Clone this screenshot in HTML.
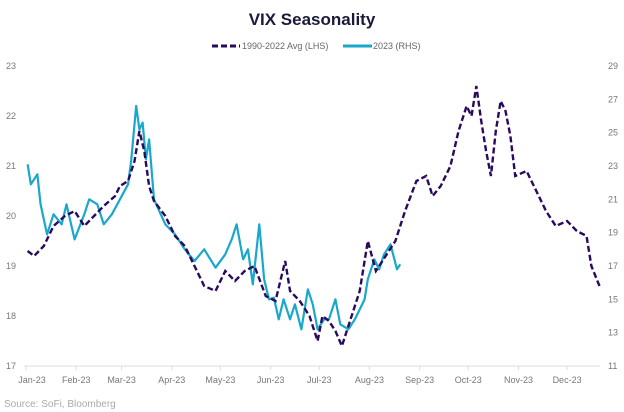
<!DOCTYPE html>
<html><head><meta charset="utf-8"><style>
body{margin:0;background:#fff;font-family:"Liberation Sans",sans-serif}
svg{display:block}
</style></head><body>
<svg width="624" height="412" xmlns="http://www.w3.org/2000/svg">
<text x="312" y="25" text-anchor="middle" font-size="17" font-weight="bold" fill="#1a1a3a">VIX Seasonality</text>
<g font-size="9" fill="#666">
<line x1="212" y1="46" x2="240" y2="46" stroke="#2a0a5e" stroke-width="3" stroke-dasharray="6,3"/>
<text x="242" y="49">1990-2022 Avg (LHS)</text>
<line x1="343" y1="46" x2="372" y2="46" stroke="#1aa7cc" stroke-width="3"/>
<text x="373" y="49">2023 (RHS)</text>
</g>
<g id="axes"></g>
<g id="series"></g>
<text x="4" y="407" font-size="10" fill="#aaa">Source: SoFi, Bloomberg</text>
</svg>
<script>
const months=["Jan-23","Feb-23","Mar-23","Apr-23","May-23","Jun-23","Jul-23","Aug-23","Sep-23","Oct-23","Nov-23","Dec-23"];
const monthStarts=[0,31,59,90,120,151,181,212,243,273,304,334];
const leftTicks=[17,18,19,20,21,22,23];
const rightTicks=[11,13,15,17,19,21,23,25,27,29];
const avgDays=[1,5,11,17,24,30,36,42,48,55,58,63,67,70,73,76,79,86,92,98,104,110,117,123,129,135,141,148,154,160,163,169,175,180,183,187,191,195,200,206,211,216,222,228,234,241,247,251,256,262,267,272,275,278,281,284,287,290,293,296,299,302,309,315,321,327,334,340,346,349,354];
const avgValues=[19.3,19.2,19.4,19.8,20.0,20.1,19.8,20.0,20.2,20.4,20.6,20.7,21.1,21.7,21.3,20.6,20.3,20.0,19.6,19.4,19.0,18.6,18.5,18.9,18.7,18.9,19.0,18.4,18.3,19.1,18.5,18.3,18.0,17.5,18.0,17.9,17.7,17.4,17.9,18.5,19.5,18.9,19.2,19.5,20.1,20.7,20.8,20.4,20.6,21.0,21.7,22.2,22.0,22.6,21.9,21.3,20.8,21.7,22.3,22.1,21.6,20.8,20.9,20.5,20.1,19.8,19.9,19.7,19.6,19.0,18.6];
const y23Days=[1,3,7,9,13,17,22,25,30,36,39,44,48,53,58,63,65,68,70,72,74,76,79,86,92,98,104,110,117,123,127,130,134,137,140,144,147,150,153,156,159,163,166,170,174,177,180,184,187,191,194,199,203,206,209,211,215,218,221,225,229,231];
const y23Values=[23.1,21.9,22.5,20.7,18.9,20.1,19.5,20.7,18.6,20.1,21.0,20.7,19.5,20.1,21.0,21.9,23.4,26.6,25.2,25.6,23.4,24.6,21.0,19.5,18.9,18.0,17.3,18.0,16.9,17.7,18.6,19.5,17.4,18.0,15.9,19.5,16.2,15.0,15.1,13.8,15.0,13.8,14.7,13.2,15.6,14.7,13.2,13.8,13.8,15.0,13.5,13.2,13.8,14.4,15.0,16.2,17.4,16.8,17.7,18.3,16.8,17.1];
const NS="http://www.w3.org/2000/svg";
const X0=26,XS=1.62,YT=66,YB=366,XR=600;
const xd=d=>X0+d*XS;
const yL=v=>YB-(v-17)/(23-17)*(YB-YT);
const yR=v=>YB-(v-11)/(29-11)*(YB-YT);
function mk(tag,attrs,parent){const e=document.createElementNS(NS,tag);for(const k in attrs)e.setAttribute(k,attrs[k]);parent.appendChild(e);return e;}
const ax=document.getElementById('axes');
const base=mk('line',{x1:X0-2,y1:YB,x2:XR,y2:YB,stroke:'#ddd','stroke-width':1},ax);


months.forEach((m,i)=>{const x=xd(monthStarts[i]);
const t=mk('line',{x1:x,y1:YB,x2:x,y2:YB+4,stroke:'#ddd'},ax);


const l=mk('text',{x:x+(i===0?6:0),y:383,'text-anchor':'middle','font-size':9,fill:'#777'},ax);l.textContent=m;

});
leftTicks.forEach(v=>{const l=mk('text',{x:6,y:yL(v)+3,'font-size':9,fill:'#777'},ax);l.textContent=v;

});
rightTicks.forEach(v=>{const l=mk('text',{x:608,y:yR(v)+3,'font-size':9,fill:'#777'},ax);l.textContent=v;

});
const sg=document.getElementById('series');
const p2=mk('polyline',{points:y23Days.map((d,i)=>xd(d)+','+yR(y23Values[i])).join(' '),fill:'none',stroke:'#1aa7cc','stroke-width':2.2,'stroke-linejoin':'round'},sg);


const p1=mk('polyline',{points:avgDays.map((d,i)=>xd(d)+','+yL(avgValues[i])).join(' '),fill:'none',stroke:'#2a0a5e','stroke-width':2.4,'stroke-dasharray':'6,3'},sg);


</script>
</body></html>
